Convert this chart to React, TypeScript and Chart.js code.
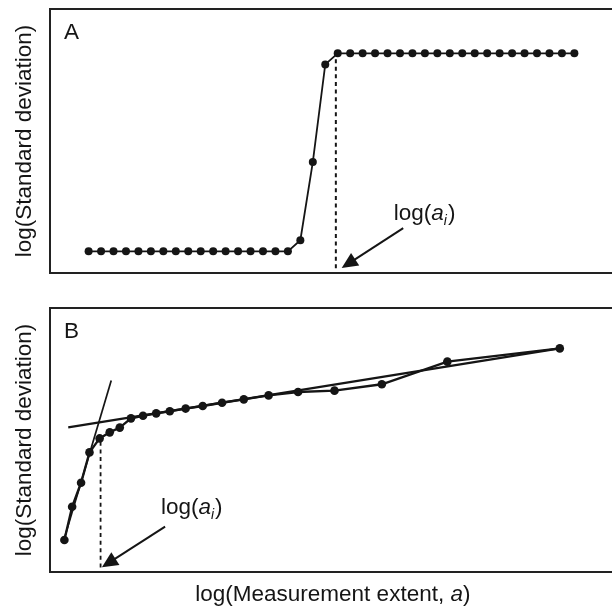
import React, { useEffect, useRef } from "react";
import { Chart, registerables } from "chart.js";

Chart.register(...registerables);

// ---------- Panel A data ----------
const A_X = [
  0, 1, 2, 3, 4, 5, 6, 7, 8, 9, 10, 11, 12, 13, 14, 15, 16, 17, 18, 19,
  20, 21, 22, 23, 24, 25, 26, 27, 28, 29, 30, 31, 32, 33, 34, 35, 36, 37, 38, 39,
];
const A_Y = [
  0.82, 0.82, 0.82, 0.82, 0.82, 0.82, 0.82, 0.82, 0.82, 0.82, 0.82, 0.82, 0.82,
  0.82, 0.82, 0.82, 0.82, 1.24, 4.2, 7.9, 8.32, 8.32, 8.32, 8.32, 8.32, 8.32,
  8.32, 8.32, 8.32, 8.32, 8.32, 8.32, 8.32, 8.32, 8.32, 8.32, 8.32, 8.32, 8.32,
  8.32,
];
const A_THRESHOLD_X = [19.85, 19.85];
const A_THRESHOLD_Y = [8.1, 0];
const A_ARROW_FROM = [25.26, 1.7];
const A_ARROW_TO = [20.32, 0.19];
const A_NOTE_AT = [24.5, 2.0];

// ---------- Panel B data ----------
const B_X = [
  0.258, 0.397, 0.557, 0.708, 0.89, 1.071, 1.251, 1.452, 1.668, 1.904, 2.148,
  2.432, 2.738, 3.085, 3.475, 3.92, 4.448, 5.101, 5.95, 7.125, 9.141,
];
const B_Y = [
  1.21, 2.47, 3.38, 4.53, 5.06, 5.29, 5.47, 5.82, 5.92, 6.01, 6.09, 6.19, 6.29,
  6.41, 6.54, 6.69, 6.82, 6.87, 7.11, 7.97, 8.47,
];
const B_STEEP_X = [0.249, 1.098];
const B_STEEP_Y = [1.21, 7.25];
const B_SHALLOW_X = [0.327, 9.141];
const B_SHALLOW_Y = [5.48, 8.47];
const B_THRESHOLD_X = [0.907, 0.907];
const B_THRESHOLD_Y = [4.93, 0];
const B_ARROW_FROM = [2.064, 1.72];
const B_ARROW_TO = [0.931, 0.18];
const B_NOTE_AT = [1.99, 2.2];

const Y_TITLE = "log(Standard deviation)";
const X_TITLE_PARTS = ["log(Measurement extent, ", "a", ")"];

const INK = "#151515";
const FAMILY = "'Liberation Sans', Arial, Helvetica, sans-serif";
const FS = 22.5;

function pts(xs: number[], ys: number[]) {
  return xs.map((x, i) => ({ x, y: ys[i] }));
}

type PanelCfg = {
  letter: string;
  arrowFrom: number[];
  arrowTo: number[];
  noteAt: number[];
  xTitle: boolean;
};

function makePlugin(cfg: PanelCfg) {
  return {
    id: "panelDecor" + cfg.letter,
    afterDraw(chart: any) {
      const { ctx, chartArea: ca, scales } = chart;
      const xs = scales.x;
      const ys = scales.y;
      const W = chart.width;
      ctx.save();
      // frame
      ctx.strokeStyle = "#222";
      ctx.lineWidth = 2;
      ctx.beginPath();
      ctx.moveTo(W, ca.top);
      ctx.lineTo(ca.left, ca.top);
      ctx.lineTo(ca.left, ca.bottom);
      ctx.lineTo(W, ca.bottom);
      ctx.stroke();

      // panel letter
      ctx.fillStyle = INK;
      ctx.font = `${FS}px ${FAMILY}`;
      ctx.textBaseline = "alphabetic";
      ctx.textAlign = "left";
      ctx.fillText(cfg.letter, ca.left + 14, ca.top + 29.5);

      // arrow
      const x1 = xs.getPixelForValue(cfg.arrowFrom[0]);
      const y1 = ys.getPixelForValue(cfg.arrowFrom[1]);
      const x2 = xs.getPixelForValue(cfg.arrowTo[0]);
      const y2 = ys.getPixelForValue(cfg.arrowTo[1]);
      const dx = x2 - x1;
      const dy = y2 - y1;
      const len = Math.hypot(dx, dy);
      const ux = dx / len;
      const uy = dy / len;
      const headLen = 16;
      const headHalf = 7.5;
      const bx = x2 - ux * headLen;
      const by = y2 - uy * headLen;
      ctx.strokeStyle = INK;
      ctx.lineWidth = 2;
      ctx.beginPath();
      ctx.moveTo(x1, y1);
      ctx.lineTo(bx + ux * 2, by + uy * 2);
      ctx.stroke();
      ctx.beginPath();
      ctx.moveTo(x2, y2);
      ctx.lineTo(bx - uy * headHalf, by + ux * headHalf);
      ctx.lineTo(bx + uy * headHalf, by - ux * headHalf);
      ctx.closePath();
      ctx.fill();

      // note log(a_i)
      let px = xs.getPixelForValue(cfg.noteAt[0]);
      const py = ys.getPixelForValue(cfg.noteAt[1]);
      ctx.font = `${FS}px ${FAMILY}`;
      ctx.fillText("log(", px, py);
      px += ctx.measureText("log(").width;
      ctx.font = `italic ${FS}px ${FAMILY}`;
      ctx.fillText("a", px, py);
      px += ctx.measureText("a").width;
      ctx.font = `italic 14px ${FAMILY}`;
      ctx.fillText("i", px, py + 5);
      px += ctx.measureText("i").width + 1;
      ctx.font = `${FS}px ${FAMILY}`;
      ctx.fillText(")", px, py);

      // x title
      if (cfg.xTitle) {
        const reg = `${FS}px ${FAMILY}`;
        const ita = `italic ${FS}px ${FAMILY}`;
        ctx.font = reg;
        const w0 = ctx.measureText(X_TITLE_PARTS[0]).width;
        const w2 = ctx.measureText(X_TITLE_PARTS[2]).width;
        ctx.font = ita;
        const w1 = ctx.measureText(X_TITLE_PARTS[1]).width;
        const total = w0 + w1 + w2;
        let tx = (ca.left + ca.right) / 2 + 4 - total / 2;
        const ty = ca.bottom + 29;
        ctx.font = reg;
        ctx.fillText(X_TITLE_PARTS[0], tx, ty);
        tx += w0;
        ctx.font = ita;
        ctx.fillText(X_TITLE_PARTS[1], tx, ty);
        tx += w1;
        ctx.font = reg;
        ctx.fillText(X_TITLE_PARTS[2], tx, ty);
      }
      ctx.restore();
    },
  };
}

function yScale() {
  return {
    type: "linear",
    position: "left",
    min: 0,
    max: 10,
    display: true,
    ticks: { display: false },
    grid: { display: false, drawTicks: false },
    border: { display: false },
    title: {
      display: true,
      text: Y_TITLE,
      color: INK,
      font: { size: FS, family: FAMILY, lineHeight: 1 },
      padding: { top: 13.5, bottom: 0 },
    },
    afterFit(s: any) {
      s.width = 50;
    },
  };
}

function lineDs(data: any[], extra: any) {
  return {
    data,
    borderColor: INK,
    backgroundColor: INK,
    pointBackgroundColor: INK,
    pointBorderWidth: 0,
    pointRadius: 0,
    fill: false,
    tension: 0,
    ...extra,
  };
}

export default function App() {
  const refA = useRef<HTMLCanvasElement>(null);
  const refB = useRef<HTMLCanvasElement>(null);

  useEffect(() => {
    const chartA = new Chart(refA.current as HTMLCanvasElement, {
      type: "line",
      data: {
        datasets: [
          lineDs(pts(A_X, A_Y), { borderWidth: 1.8, pointRadius: 4 }),
          lineDs(pts(A_THRESHOLD_X, A_THRESHOLD_Y), {
            borderWidth: 2,
            borderDash: [4, 3.6],
          }),
        ],
      },
      options: {
        animation: false,
        responsive: false,
        parsing: false,
        layout: { padding: { top: 9, bottom: 17, left: 0, right: 0 } },
        plugins: { legend: { display: false }, tooltip: { enabled: false } },
        scales: {
          x: { type: "linear", min: -3.1, max: 41.7, display: false },
          y: yScale(),
        },
      } as any,
      plugins: [
        makePlugin({
          letter: "A",
          arrowFrom: A_ARROW_FROM,
          arrowTo: A_ARROW_TO,
          noteAt: A_NOTE_AT,
          xTitle: false,
        }),
      ],
    } as any);

    const chartB = new Chart(refB.current as HTMLCanvasElement, {
      type: "line",
      data: {
        datasets: [
          lineDs(pts(B_X, B_Y), { borderWidth: 2.4, pointRadius: 4.3 }),
          lineDs(pts(B_STEEP_X, B_STEEP_Y), { borderWidth: 1.7 }),
          lineDs(pts(B_SHALLOW_X, B_SHALLOW_Y), { borderWidth: 2.2 }),
          lineDs(pts(B_THRESHOLD_X, B_THRESHOLD_Y), {
            borderWidth: 1.8,
            borderDash: [4, 3.6],
          }),
        ],
      },
      options: {
        animation: false,
        responsive: false,
        parsing: false,
        layout: { padding: { top: 18, bottom: 34, left: 0, right: 0 } },
        plugins: { legend: { display: false }, tooltip: { enabled: false } },
        scales: {
          x: { type: "linear", min: 0, max: 10, display: false },
          y: yScale(),
        },
      } as any,
      plugins: [
        makePlugin({
          letter: "B",
          arrowFrom: B_ARROW_FROM,
          arrowTo: B_ARROW_TO,
          noteAt: B_NOTE_AT,
          xTitle: true,
        }),
      ],
    } as any);

    return () => {
      chartA.destroy();
      chartB.destroy();
    };
  }, []);

  return (
    <div
      style={{
        position: "fixed",
        left: 0,
        top: 0,
        width: 612,
        height: 606,
        background: "#fff",
        overflow: "hidden",
      }}
    >
      <canvas
        ref={refA}
        width={612}
        height={290}
        style={{ position: "absolute", left: 0, top: 0, display: "block" }}
      />
      <canvas
        ref={refB}
        width={612}
        height={316}
        style={{ position: "absolute", left: 0, top: 290, display: "block" }}
      />
    </div>
  );
}
